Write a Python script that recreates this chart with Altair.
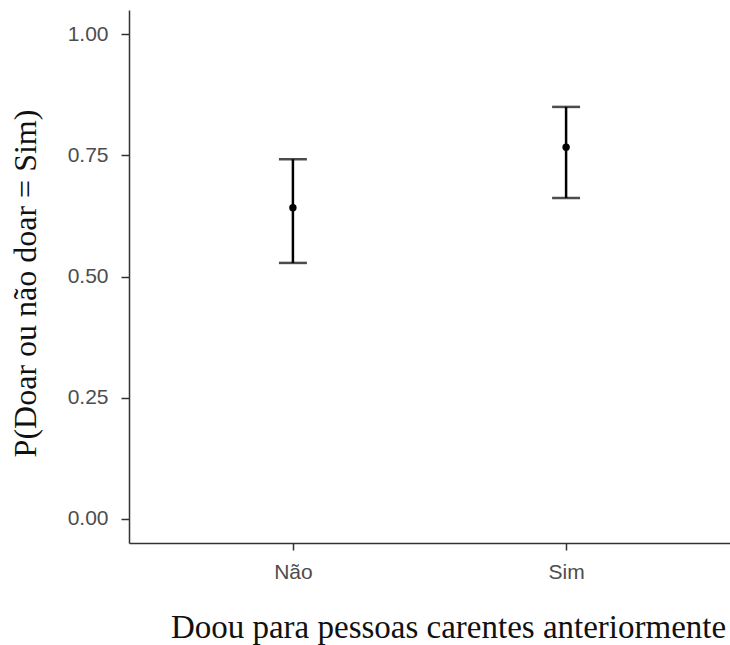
import altair as alt
import pandas as pd

categories = ["Não", "Sim"]
estimate = [0.642, 0.767]
lower = [0.528, 0.662]
upper = [0.742, 0.850]

df = pd.DataFrame({"cat": categories, "est": estimate, "lo": lower, "hi": upper})

x_enc = alt.X(
    "cat:N",
    scale=alt.Scale(type="point", domain=categories, padding=0.6),
    axis=alt.Axis(
        title="Doou para pessoas carentes anteriormente",
        titleFont="Liberation Serif", titleFontSize=33, titleFontWeight="normal",
        titleColor="#111111", titleX=319, titleY=94, titleAlign="center",
        titleBaseline="alphabetic", titleAnchor="middle",
        labelFont="Liberation Sans", labelFontSize=21, labelColor="#4d4d4d",
        labelAngle=0, labelPadding=11, tickSize=7, tickColor="#333333", tickWidth=1.5,
        domainColor="#333333", domainWidth=1.5, grid=False,
    ),
)
y_scale = alt.Scale(domain=[-0.05, 1.05], nice=False, zero=False)
y_axis = alt.Axis(
    title="P(Doar ou não doar = Sim)",
    values=[0, 0.25, 0.5, 0.75, 1.0], format=".2f",
    titleFont="Liberation Serif", titleFontSize=32, titleFontWeight="normal",
    titleColor="#111111", titleX=-94, titleY=273, titleAlign="center",
    titleBaseline="alphabetic", titleAngle=270,
    labelFont="Liberation Sans", labelFontSize=21, labelColor="#4d4d4d",
    labelPadding=13, tickSize=8, tickColor="#333333", tickWidth=1.5,
    domainColor="#333333", domainWidth=1.5, grid=False,
)

base = alt.Chart(df)
rule = base.mark_rule(color="black", strokeWidth=2.5).encode(
    x=x_enc, y=alt.Y("lo:Q", scale=y_scale, axis=y_axis), y2="hi:Q"
)
cap_lo = base.mark_tick(color="black", thickness=2.5, size=28, orient="horizontal").encode(
    x=x_enc, y=alt.Y("lo:Q", scale=y_scale, axis=y_axis)
)
cap_hi = base.mark_tick(color="black", thickness=2.5, size=28, orient="horizontal").encode(
    x=x_enc, y=alt.Y("hi:Q", scale=y_scale, axis=y_axis)
)
pt = base.mark_circle(color="black", opacity=1, size=55).encode(
    x=x_enc, y=alt.Y("est:Q", scale=y_scale, axis=y_axis)
)

chart = (
    alt.layer(rule, cap_lo, cap_hi, pt)
    .properties(
        width=601, height=533,
        autosize=alt.AutoSizeParams(type="none"),
        padding={"left": 129, "top": 10, "right": 0, "bottom": 102},
        background="white",
    )
    .configure_view(stroke=None)
)

chart.save("out.html", embed_options={"renderer": "svg", "actions": False})
